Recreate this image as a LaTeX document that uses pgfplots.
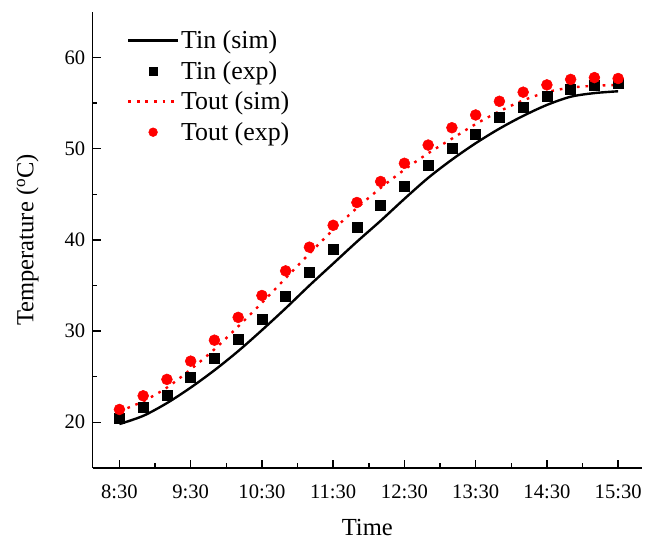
\documentclass[border=0pt]{standalone}
\usepackage{fontspec}
\setmainfont{Liberation Serif}
\usepackage{pgfplots}
\usepackage{pgfplotstable}
\pgfplotsset{compat=1.18}

% time in hours, one reading every 20 min
\pgfplotstableread{
t        tinsim tinexp toutsim toutexp
8.5      19.8   20.4   21.2    21.4
8.8333   20.7   21.6   22.3    22.9
9.1667   22.1   23.0   23.8    24.7
9.5      23.8   24.9   25.8    26.7
9.8333   25.7   27.0   28.0    29.0
10.1667  27.8   29.1   30.5    31.5
10.5     30.1   31.3   33.1    33.9
10.8333  32.5   33.8   35.8    36.6
11.1667  35.0   36.5   38.5    39.2
11.5     37.4   39.0   41.1    41.6
11.8333  39.8   41.4   43.5    44.1
12.1667  42.1   43.8   45.7    46.4
12.5     44.5   45.9   47.7    48.4
12.8333  46.8   48.2   49.5    50.4
13.1667  48.8   50.1   51.1    52.3
13.5     50.6   51.6   52.7    53.7
13.8333  52.2   53.4   54.1    55.2
14.1667  53.6   54.5   55.3    56.2
14.5     54.8   55.7   56.2    57.0
14.8333  55.7   56.5   56.7    57.6
15.1667  56.1   57.0   56.9    57.8
15.5     56.3   57.2   57.0    57.7
}\data

\begin{document}
\begin{tikzpicture}
\begin{axis}[
  scale only axis, width=414pt, height=343.5pt,
  xmin=8.123, xmax=15.835, ymin=15, ymax=65,
  axis lines=left, axis line style={-, line width=1.3pt},
  tick align=inside, major tick length=6pt, minor tick length=3.5pt,
  every tick/.style={black, line width=1.1pt},
  xtick={8.5,9.5,...,15.5},
  xticklabels={8:30,9:30,10:30,11:30,12:30,13:30,14:30,15:30},
  minor x tick num=1,
  ytick={20,30,...,60}, minor y tick num=1,
  /pgf/number format/assume math mode=true,
  tick label style={font=\fontsize{15.5}{18}\selectfont},
  xticklabel style={yshift=-9.5pt},
  yticklabel style={xshift=-2pt},
  label style={font=\fontsize{18.5}{22}\selectfont},
  xlabel={Time}, ylabel={Temperature (\textsuperscript{o}C)},
  x label style={at={(axis description cs:0.5,0)}, anchor=center, yshift=-45pt},
  y label style={at={(axis description cs:0,0.5)}, anchor=center, yshift=49pt},
  legend style={draw=none, fill=none, at={(axis description cs:0.055,0.97)},
    anchor=north west, font=\fontsize{19.5}{22}\selectfont, row sep=5pt,
    nodes={inner sep=1.5pt}},
  legend cell align=left,
  legend image code/.code={\draw[mark repeat=2,mark phase=2,#1,
    every mark/.append style={scale=0.8}]
    plot coordinates {(0pt,0pt) (18.75pt,0pt) (37.5pt,0pt)};},
]
\addplot[black, line width=1.8pt, smooth] table[x=t, y=tinsim] {\data};
\addlegendentry{Tin (sim)}
\addplot[only marks, mark=square*, mark size=3.75pt, black] table[x=t, y=tinexp] {\data};
\addlegendentry{Tin (exp)}
\addplot[red, line width=1.8pt, dash pattern=on 2pt off 4.5pt, smooth] table[x=t, y=toutsim] {\data};
\addlegendentry{Tout (sim)}
\addplot[only marks, mark=*, mark size=4.1pt, red] table[x=t, y=toutexp] {\data};
\addlegendentry{Tout (exp)}
\end{axis}
\path ([shift={(-69.75pt,-54.75pt)}]current axis.south west) rectangle ([shift={(0.75pt,9pt)}]current axis.north east);
\end{tikzpicture}
\end{document}
